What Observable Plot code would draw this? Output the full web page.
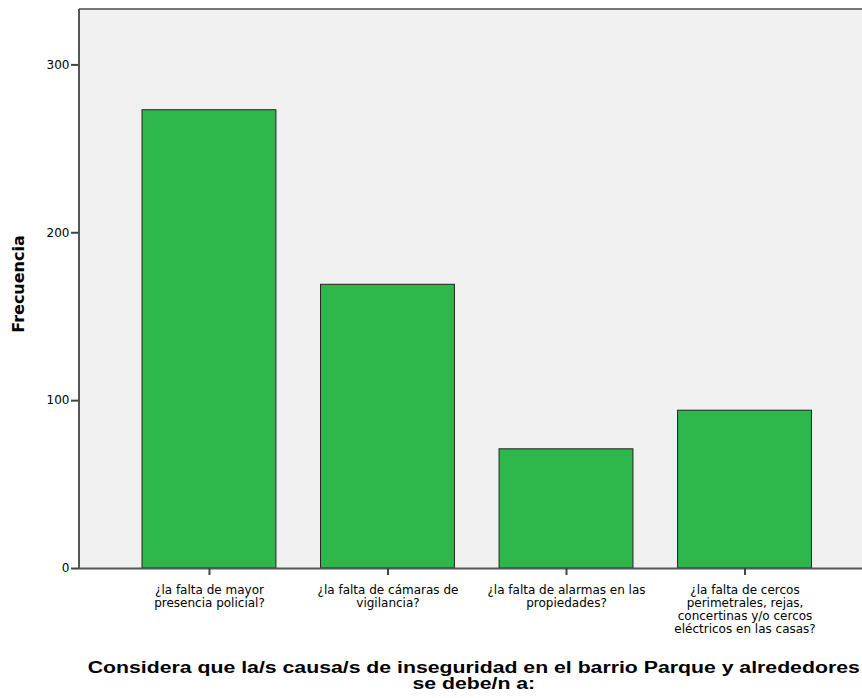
<!DOCTYPE html>
<html>
<head>
<meta charset="utf-8">
<script src="https://cdn.jsdelivr.net/npm/d3@7"></script>
<script src="https://cdn.jsdelivr.net/npm/@observablehq/plot@0.6"></script>
<style>
  html, body { margin: 0; padding: 0; background: #fff; }
  #chart svg { display: block; }
  #title { width: 776px; padding-left: 86px; text-align: center; margin-top: 10px;
    font-family: "Liberation Sans", Arial, sans-serif; font-weight: bold; font-size: 16px; line-height: 16px; color: #000; }
  #title span { display: inline-block; transform-origin: center; }
</style>
</head>
<body>
<div id="chart"></div>
<div id="title"><span id="tspan">Considera que la/s causa/s de inseguridad en el barrio Parque y alrededores<br>se debe/n a:</span></div>
<script>
const categories = [
  "¿la falta de mayor presencia policial?",
  "¿la falta de cámaras de vigilancia?",
  "¿la falta de alarmas en las propiedades?",
  "¿la falta de cercos perimetrales, rejas, concertinas y/o cercos eléctricos en las casas?"
];
const tickLabels = [
  "¿la falta de mayor\npresencia policial?",
  "¿la falta de cámaras de\nvigilancia?",
  "¿la falta de alarmas en las\npropiedades?",
  "¿la falta de cercos\nperimetrales, rejas,\nconcertinas y/o cercos\neléctricos en las casas?"
];
const frecuencia = [273, 169, 71, 94];
const yTicks = [0, 100, 200, 300];
const yMax = 333;
const yLabel = "Frecuencia";

const data = categories.map((c, i) => ({cat: c, value: frecuencia[i]}));

const lineMark = (which) => (index, scales, values, dim) => {
  const l = document.createElementNS("http://www.w3.org/2000/svg", "line");
  const x0 = dim.marginLeft, x1 = dim.width - dim.marginRight;
  const y0 = dim.marginTop, y1 = dim.height - dim.marginBottom;
  if (which === "left") {
    l.setAttribute("x1", x0); l.setAttribute("x2", x0);
    l.setAttribute("y1", y0); l.setAttribute("y2", y1 + 1);
    l.setAttribute("stroke", "#555");
  } else {
    l.setAttribute("x1", x0); l.setAttribute("x2", x1);
    l.setAttribute("y1", y0); l.setAttribute("y2", y0);
    l.setAttribute("stroke", "#777");
  }
  l.setAttribute("stroke-width", 2);
  return l;
};

const tickFont = "'DejaVu Sans', Verdana, sans-serif";

const chart = Plot.plot({
  width: 862,
  height: 650,
  marginLeft: 79,
  marginRight: 0,
  marginTop: 9,
  marginBottom: 82,
  style: {fontFamily: tickFont, fontSize: "12px", color: "#000", background: "#fff"},
  x: {domain: categories, paddingInner: 0.25, paddingOuter: 0.318, align: 0.555, round: false},
  y: {domain: [0, yMax]},
  marks: [
    Plot.frame({fill: "#f0f0f0", stroke: "none"}),
    Plot.barY(data, {x: "cat", y: "value", fill: "#2eb84b", stroke: "#222", strokeWidth: 1}),
    lineMark("top"),
    Plot.ruleY([0], {stroke: "#555", strokeWidth: 2}),
    lineMark("left"),
    Plot.axisY({ticks: yTicks, tickSize: 8, tickPadding: 2, label: null, stroke: "#444", strokeWidth: 2, fontSize: 12, fill: "#000"}),
    Plot.axisX({tickSize: 7, tickPadding: 9, label: null, stroke: "#444", strokeWidth: 2, fontSize: 12, fill: "#000", lineHeight: 1.1,
      tickFormat: d => tickLabels[categories.indexOf(d)]}),
    Plot.text([yLabel], {text: d => d, frameAnchor: "left", textAnchor: "middle", dx: -61, dy: -5, rotate: -90,
      fontWeight: "bold", fontSize: 16, fill: "#000"})
  ]
});
document.getElementById("chart").appendChild(chart);

const span = document.getElementById("tspan");
const w = span.getBoundingClientRect().width;
span.style.transform = `scaleX(${772 / w})`;
</script>
</body>
</html>
